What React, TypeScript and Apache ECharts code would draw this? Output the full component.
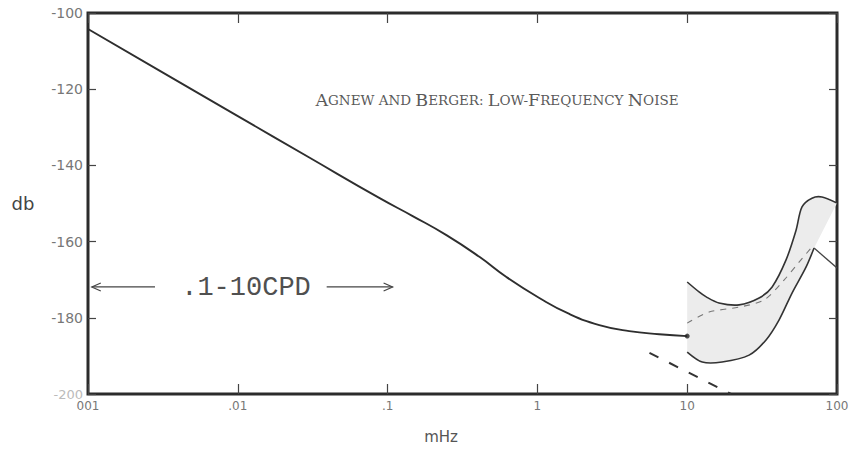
import React, { useEffect, useRef } from "react";
import * as echarts from "echarts";

// ---- data ----
const FREQ_TICKS = [0.001, 0.01, 0.1, 1, 10, 100];
const FREQ_LABELS = ["001", ".01", ".1", "1", "10", "100"];
const DB_MIN = -200;
const DB_MAX = -100;
const DB_STEP = 20;

// main noise curve (mHz, dB)
const CURVE_FREQ = [0.001, 0.00302, 0.00955, 0.0302, 0.0885, 0.147, 0.247, 0.41, 0.621, 1.03, 1.633, 2.59, 4.1, 6.5, 10];
const CURVE_DB = [-104.2, -115.2, -126.6, -138.0, -148.6, -153.3, -158.3, -164.0, -169.3, -174.8, -179.0, -181.9, -183.5, -184.3, -184.8];

// dashed extension
const DASH_FREQ = [5.6, 19.6];
const DASH_DB = [-189.2, -200];

// shaded band (upper / lower edges)
const BAND_UPPER: [number, number][] = [
  [10, -170.6], [12.0, -173.2], [13.4, -174.5], [16.3, -176.1], [22.2, -176.6], [30.2, -174.8],
  [36.9, -171.9], [45.7, -164.8], [53.3, -157.0], [58.4, -150.9], [68.1, -148.6], [79.4, -148.3], [100, -149.9],
];
const BAND_LOWER_LEFT: [number, number][] = [
  [10, -189.0], [12.6, -191.6], [17.1, -191.6], [25.9, -189.8], [33.6, -185.8], [41.0, -180.6],
  [50.1, -173.5], [62.1, -166.7], [70.3, -161.7],
];
const BAND_LOWER_RIGHT: [number, number][] = [[70.3, -161.7], [100, -166.9]];
const BAND_INNER_FREQ = [10, 14.0, 22.2, 32.6, 44.3, 55.8, 68.1];
const BAND_INNER_DB = [-181.4, -178.5, -177.2, -175.3, -170.1, -165.4, -161.4];

// .1-10 CPD arrows (mHz range, dB level)
const ARROWS: { from: number; to: number; head: "left" | "right" }[] = [
  { from: 0.00106, to: 0.0028, head: "left" },
  { from: 0.0392, to: 0.108, head: "right" },
];
const ARROW_DB = -171.9;

// title in small caps: [initial, rest]
const TITLE_PARTS: [string, string][] = [
  ["A", "GNEW AND "],
  ["B", "ERGER: "],
  ["L", "OW-"],
  ["F", "REQUENCY "],
  ["N", "OISE"],
];
const ANNOT = ".1-10CPD";

function freqLabel(v: number) {
  const i = FREQ_TICKS.findIndex((t) => Math.abs(Math.log10(t) - Math.log10(v)) < 1e-6);
  return i >= 0 ? FREQ_LABELS[i] : "";
}

export default function App() {
  const ref = useRef<HTMLDivElement>(null);
  useEffect(() => {
    if (!ref.current) return;
    const chart = echarts.init(ref.current, undefined, { renderer: "svg" });
    const ink = "#2e2e2e";
    const tickStyle = { color: "#444", width: 1.2 };
    const xBase = {
      type: "log" as const,
      logBase: 10,
      min: FREQ_TICKS[0],
      max: FREQ_TICKS[FREQ_TICKS.length - 1],
      axisLine: { show: false },
      splitLine: { show: false },
      minorTick: { show: false },
      axisTick: { inside: true, length: 10, lineStyle: tickStyle },
    };
    const yBase = {
      type: "value" as const,
      min: DB_MIN,
      max: DB_MAX,
      interval: DB_STEP,
      axisLine: { show: false },
      splitLine: { show: false },
      axisTick: { inside: true, length: 8, lineStyle: tickStyle },
    };
    const titleRich = TITLE_PARTS.map(([b, s]) => `{b|${b}}{s|${s}}`).join("");

    chart.setOption({
      animation: false,
      backgroundColor: "#fff",
      grid: { left: 88, right: 15, top: 13, bottom: 64, show: true, borderColor: "#2b2b2b", borderWidth: 3, backgroundColor: "transparent" },
      xAxis: [
        {
          ...xBase,
          position: "bottom",
          axisLabel: { formatter: (v: number) => freqLabel(v), color: "#777", fontSize: 12, margin: 6, fontFamily: "DejaVu Sans" },
        },
        { ...xBase, position: "top", axisLabel: { show: false } },
      ],
      yAxis: [
        {
          ...yBase,
          position: "left",
          axisLabel: {
            color: "#777",
            fontSize: 14,
            margin: 5,
            fontFamily: "DejaVu Sans",
            formatter: (v: number) => (v === DB_MIN ? `{f|${v}}` : `${v}`),
            rich: { f: { color: "#bbb", fontSize: 13, fontFamily: "DejaVu Sans" } },
          },
        },
        { ...yBase, position: "right", axisLabel: { show: false } },
      ],
      graphic: [
        {
          type: "text",
          x: 497,
          y: 100,
          style: {
            text: titleRich,
            textAlign: "center",
            textVerticalAlign: "middle",
            rich: {
              b: { fontSize: 17.5, fontFamily: "DejaVu Serif", fill: "#5a5a5a" },
              s: { fontSize: 13.5, fontFamily: "DejaVu Serif", fill: "#5a5a5a" },
            },
          },
        },
        {
          type: "text",
          x: 246,
          y: 288,
          style: { text: ANNOT, textAlign: "center", textVerticalAlign: "middle", fontSize: 27, fontFamily: "Liberation Mono", fill: "#505050" },
        },
        {
          type: "text",
          x: 23,
          y: 203,
          style: { text: "db", textAlign: "center", textVerticalAlign: "middle", fontSize: 18, fontFamily: "DejaVu Sans", fill: "#444" },
        },
        {
          type: "text",
          x: 441,
          y: 437,
          style: { text: "mHz", textAlign: "center", textVerticalAlign: "middle", fontSize: 15, fontFamily: "DejaVu Sans", fill: "#555" },
        },
      ],
      series: [
        {
          type: "custom",
          name: "band",
          xAxisIndex: 0,
          yAxisIndex: 0,
          clip: true,
          z: 2,
          data: [[BAND_UPPER[0][0], BAND_UPPER[0][1]]],
          renderItem: (_p: any, api: any) => {
            const up = BAND_UPPER.map((p) => api.coord(p));
            const loL = BAND_LOWER_LEFT.map((p) => api.coord(p));
            const loR = BAND_LOWER_RIGHT.map((p) => api.coord(p));
            const poly = [...up, ...[...loR].reverse().slice(1), ...[...loL].reverse()];
            return {
              type: "group",
              children: [
                { type: "polygon", shape: { points: poly }, style: { fill: "#ececec", stroke: "none" } },
                { type: "polyline", shape: { points: up, smooth: 0.3 }, style: { stroke: "#333", lineWidth: 1.6, fill: "none" } },
                { type: "polyline", shape: { points: loL, smooth: 0.3 }, style: { stroke: "#333", lineWidth: 1.6, fill: "none" } },
                { type: "polyline", shape: { points: loR }, style: { stroke: "#444", lineWidth: 1.3, fill: "none" } },
              ],
            };
          },
        },
        {
          type: "line",
          name: "inner",
          data: BAND_INNER_FREQ.map((f, i) => [f, BAND_INNER_DB[i]]),
          smooth: 0.3,
          symbol: "none",
          z: 3,
          lineStyle: { color: "#777", width: 1.1, type: [6, 6] },
        },
        {
          type: "line",
          name: "noise",
          data: CURVE_FREQ.map((f, i) => [f, CURVE_DB[i]]),
          smooth: 0.5,
          symbol: "none",
          z: 4,
          lineStyle: { color: ink, width: 1.9 },
        },
        {
          type: "scatter",
          name: "end",
          data: [[CURVE_FREQ[CURVE_FREQ.length - 1], CURVE_DB[CURVE_DB.length - 1]]],
          symbolSize: 5,
          itemStyle: { color: "#222" },
          z: 5,
        },
        {
          type: "line",
          name: "dash",
          data: DASH_FREQ.map((f, i) => [f, DASH_DB[i]]),
          symbol: "none",
          z: 4,
          lineStyle: { color: "#333", width: 2, type: [10, 12] },
        },
        {
          type: "custom",
          name: "arrows",
          xAxisIndex: 0,
          yAxisIndex: 0,
          z: 4,
          data: ARROWS.map((a) => [a.from, ARROW_DB]),
          renderItem: (p: any, api: any) => {
            const a = ARROWS[p.dataIndex];
            const s = api.coord([a.from, ARROW_DB]);
            const e = api.coord([a.to, ARROW_DB]);
            const tip = a.head === "left" ? s : e;
            const dir = a.head === "left" ? 1 : -1;
            const style = { stroke: "#444", lineWidth: 1.2, fill: "none" };
            return {
              type: "group",
              children: [
                { type: "line", shape: { x1: s[0], y1: s[1], x2: e[0], y2: e[1] }, style },
                {
                  type: "polyline",
                  shape: { points: [[tip[0] + dir * 9, tip[1] - 4], tip, [tip[0] + dir * 9, tip[1] + 4]] },
                  style,
                },
              ],
            };
          },
        },
      ],
    });
    return () => chart.dispose();
  }, []);
  return <div ref={ref} style={{ position: "fixed", left: 0, top: 0, width: 852, height: 458 }} />;
}
